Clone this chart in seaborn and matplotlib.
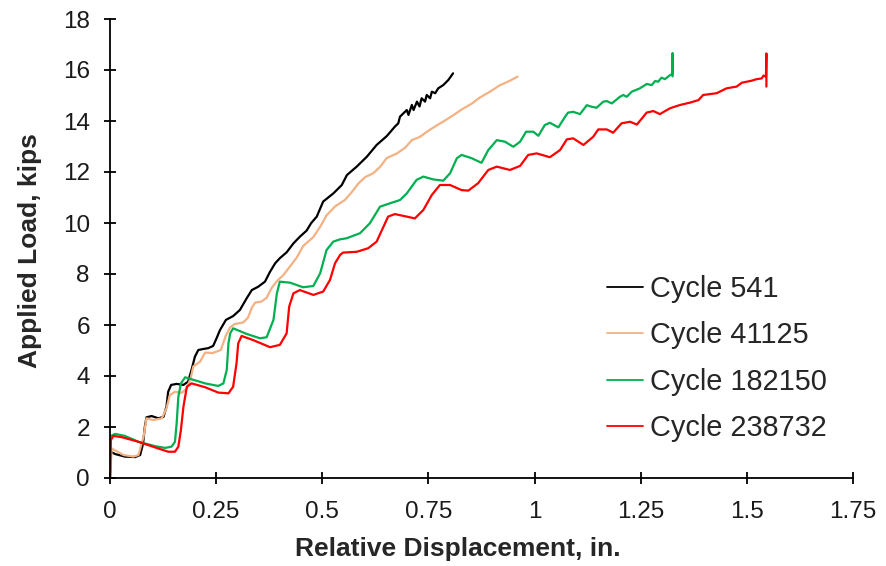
import numpy as np
import pandas as pd
import matplotlib
matplotlib.use("Agg")
import matplotlib.pyplot as plt
import seaborn as sns

# ---------------- data ----------------
labels = ["Cycle 541", "Cycle 41125", "Cycle 182150", "Cycle 238732"]
colors = ["#000000", "#F4B183", "#00B050", "#FF0000"]

x_541 = [0.0, 0.002, 0.012, 0.035, 0.059, 0.071, 0.078, 0.082, 0.086, 0.098, 0.114, 0.126, 0.133,
         0.137, 0.144, 0.157, 0.173, 0.184, 0.192, 0.200, 0.208, 0.220, 0.231, 0.243, 0.251, 0.259,
         0.273, 0.290, 0.306, 0.322, 0.334, 0.349, 0.365, 0.377, 0.389, 0.400, 0.416, 0.432, 0.447,
         0.463, 0.474, 0.487, 0.502, 0.526, 0.546, 0.558, 0.581, 0.605, 0.628, 0.652, 0.671, 0.679,
         0.683, 0.691, 0.699, 0.703, 0.711, 0.715, 0.723, 0.729, 0.734, 0.742, 0.746, 0.754, 0.758,
         0.766, 0.773, 0.785, 0.797, 0.808]
y_541 = [0.0, 1.03, 0.94, 0.84, 0.82, 0.90, 1.36, 2.01, 2.38, 2.43, 2.34, 2.40, 2.80,
         3.38, 3.65, 3.69, 3.65, 3.78, 4.24, 4.76, 5.02, 5.06, 5.09, 5.18, 5.48, 5.80,
         6.20, 6.35, 6.59, 7.05, 7.37, 7.50, 7.70, 8.09, 8.42, 8.62, 8.85, 9.20, 9.46,
         9.70, 10.00, 10.25, 10.84, 11.16, 11.49, 11.88, 12.21, 12.60, 13.06, 13.41, 13.78, 13.91,
         14.17, 14.30, 14.43, 14.24, 14.63, 14.43, 14.76, 14.57, 14.89, 14.76, 15.02, 14.89, 15.15,
         15.09, 15.28, 15.41, 15.61, 15.87]

x_41125 = [0.0, 0.004, 0.032, 0.055, 0.067, 0.079, 0.086, 0.102, 0.122, 0.133, 0.141, 0.153, 0.169,
           0.181, 0.190, 0.196, 0.212, 0.224, 0.242, 0.261, 0.273, 0.283, 0.294, 0.314, 0.325,
           0.334, 0.342, 0.357, 0.369, 0.381, 0.393, 0.408, 0.424, 0.440, 0.455, 0.479, 0.495,
           0.510, 0.530, 0.553, 0.569, 0.585, 0.601, 0.620, 0.636, 0.652, 0.675, 0.695, 0.711,
           0.730, 0.750, 0.769, 0.789, 0.808, 0.828, 0.852, 0.871, 0.895, 0.918, 0.942, 0.960]
y_41125 = [0.0, 1.16, 0.90, 0.84, 0.90, 1.62, 2.34, 2.27, 2.34, 2.73, 3.25, 3.38, 3.34,
           3.52, 3.91, 4.37, 4.56, 4.92, 4.90, 5.02, 5.59, 5.91, 6.04, 6.10, 6.29,
           6.68, 6.88, 6.92, 7.07, 7.46, 7.72, 7.95, 8.30, 8.65, 9.10, 9.45, 9.85,
           10.30, 10.65, 10.90, 11.20, 11.55, 11.80, 11.95, 12.20, 12.55, 12.72, 12.95, 13.25,
           13.38, 13.62, 13.82, 14.02, 14.22, 14.45, 14.68, 14.92, 15.15, 15.40, 15.58, 15.74]

x_182150 = [0.0, 0.001, 0.002, 0.012, 0.035, 0.067, 0.106, 0.130, 0.145, 0.153, 0.157, 0.161, 0.167,
            0.177, 0.224, 0.255, 0.267, 0.275, 0.279, 0.283, 0.290, 0.322, 0.353, 0.369, 0.385,
            0.393, 0.400, 0.424, 0.455, 0.479, 0.495, 0.510, 0.526, 0.542, 0.557, 0.589, 0.612,
            0.636, 0.659, 0.683, 0.699, 0.722, 0.738, 0.761, 0.785, 0.801, 0.817, 0.828, 0.852,
            0.875, 0.891, 0.911, 0.930, 0.950, 0.966, 0.980, 0.997, 1.009, 1.024, 1.036, 1.056,
            1.072, 1.079, 1.091, 1.107, 1.123, 1.134, 1.146, 1.162, 1.170, 1.182, 1.201, 1.209,
            1.217, 1.229, 1.248, 1.264, 1.276, 1.284, 1.291, 1.299, 1.307, 1.319, 1.325, 1.325,
            1.325]
y_182150 = [0.0, 1.29, 1.65, 1.73, 1.65, 1.42, 1.25, 1.18, 1.23, 1.42, 2.15, 3.19, 3.71,
            3.95, 3.71, 3.61, 3.71, 4.24, 5.28, 5.67, 5.87, 5.65, 5.48, 5.52, 6.20,
            7.24, 7.70, 7.66, 7.48, 7.53, 8.03, 8.94, 9.27, 9.36, 9.40, 9.60, 9.99,
            10.64, 10.77, 10.90, 11.16, 11.69, 11.82, 11.71, 11.66, 11.95, 12.54, 12.67, 12.54,
            12.36, 12.86, 13.25, 13.19, 12.99, 13.19, 13.58, 13.58, 13.42, 13.84, 13.93, 13.75,
            14.17, 14.33, 14.36, 14.27, 14.62, 14.56, 14.52, 14.76, 14.78, 14.69, 14.95, 15.02,
            14.95, 15.15, 15.28, 15.45, 15.41, 15.57, 15.54, 15.70, 15.64, 15.80, 15.84, 16.65,
            15.75]

x_238732 = [0.0, 0.002, 0.008, 0.028, 0.067, 0.106, 0.137, 0.153, 0.161, 0.167, 0.173, 0.181, 0.192,
            0.224, 0.255, 0.279, 0.290, 0.298, 0.302, 0.310, 0.337, 0.377, 0.400, 0.416, 0.422,
            0.432, 0.447, 0.479, 0.502, 0.518, 0.530, 0.542, 0.549, 0.581, 0.608, 0.628, 0.644,
            0.655, 0.671, 0.699, 0.718, 0.738, 0.758, 0.777, 0.801, 0.828, 0.844, 0.867, 0.891,
            0.911, 0.942, 0.966, 0.985, 1.005, 1.036, 1.060, 1.076, 1.091, 1.115, 1.138, 1.150,
            1.170, 1.185, 1.205, 1.225, 1.241, 1.264, 1.280, 1.295, 1.319, 1.343, 1.366, 1.386,
            1.397, 1.429, 1.452, 1.476, 1.488, 1.511, 1.523, 1.535, 1.539, 1.545, 1.546, 1.546]
y_238732 = [0.0, 1.49, 1.65, 1.60, 1.42, 1.20, 1.03, 1.03, 1.23, 1.88, 2.80, 3.58, 3.71,
            3.56, 3.35, 3.32, 3.58, 4.50, 5.28, 5.57, 5.41, 5.13, 5.22, 5.67, 6.72,
            7.24, 7.37, 7.18, 7.31, 7.76, 8.42, 8.75, 8.84, 8.87, 9.01, 9.27, 9.85,
            10.25, 10.35, 10.25, 10.18, 10.51, 11.10, 11.49, 11.49, 11.29, 11.27, 11.56, 12.08,
            12.21, 12.08, 12.24, 12.67, 12.73, 12.58, 12.86, 13.28, 13.32, 13.06, 13.38, 13.67,
            13.67, 13.54, 13.91, 13.97, 13.86, 14.33, 14.39, 14.27, 14.50, 14.63, 14.72, 14.82,
            15.02, 15.09, 15.28, 15.35, 15.50, 15.58, 15.64, 15.67, 15.78, 15.74, 16.65, 15.35]

x_ticks = [0, 0.25, 0.5, 0.75, 1, 1.25, 1.5, 1.75]
x_ticklabels = ["0", "0.25", "0.5", "0.75", "1", "1.25", "1.5", "1.75"]
y_ticks = [0, 2, 4, 6, 8, 10, 12, 14, 16, 18]

# ---------------- build long table ----------------
frames = []
for lab, xs, ys in zip(labels, [x_541, x_41125, x_182150, x_238732],
                       [y_541, y_41125, y_182150, y_238732]):
    frames.append(pd.DataFrame({"disp": xs, "load": ys, "Cycle": lab}))
df = pd.concat(frames, ignore_index=True)

sns.set_style("white")
plt.rcParams["font.family"] = ["Liberation Sans", "DejaVu Sans"]

fig = plt.figure(figsize=(8.86, 5.66), dpi=100)
ax = fig.add_axes([110 / 886, 1 - 478 / 566, (853 - 110) / 886, (478 - 19) / 566])

sns.lineplot(data=df, x="disp", y="load", hue="Cycle", hue_order=labels,
             palette=dict(zip(labels, colors)), units="Cycle", estimator=None,
             sort=False, linewidth=1.6, ax=ax, legend=True)
for ln in ax.get_lines():
    ln.set_solid_joinstyle("round")
    ln.set_solid_capstyle("round")

ax.set_xlim(0, 1.75)
ax.set_ylim(0, 18)
ax.set_xticks(x_ticks)
ax.set_xticklabels(x_ticklabels)
ax.set_yticks(y_ticks)

for s in ["top", "right"]:
    ax.spines[s].set_visible(False)
for s in ["left", "bottom"]:
    ax.spines[s].set_color("black")
    ax.spines[s].set_linewidth(1.3)

ax.tick_params(axis="both", bottom=True, left=True, direction="inout", length=9,
               width=1.3, color="black", labelsize=17.5, labelcolor="#1a1a1a")
ax.tick_params(axis="x", pad=12)
ax.tick_params(axis="y", pad=10)

ax.set_xlabel("Relative Displacement, in.", fontsize=19, fontweight="bold")
ax.set_ylabel("Applied Load, kips", fontsize=19, fontweight="bold")
ax.xaxis.set_label_coords(0.468, -0.155)
ax.xaxis.label.set_va("center")
ax.yaxis.set_label_coords(-0.108, 0.495)
ax.yaxis.label.set_va("center")
ax.yaxis.label.set_ha("center")

leg = ax.legend(loc="upper left", bbox_to_anchor=(607 / 886, 1 - 275 / 566),
                bbox_transform=fig.transFigure, frameon=False, fontsize=20.8,
                handlelength=1.25, handletextpad=0.25, labelspacing=0.64, borderpad=0,
                borderaxespad=0)
for line in leg.get_lines():
    line.set_linewidth(1.3)

fig.savefig("out.png", dpi=100)
